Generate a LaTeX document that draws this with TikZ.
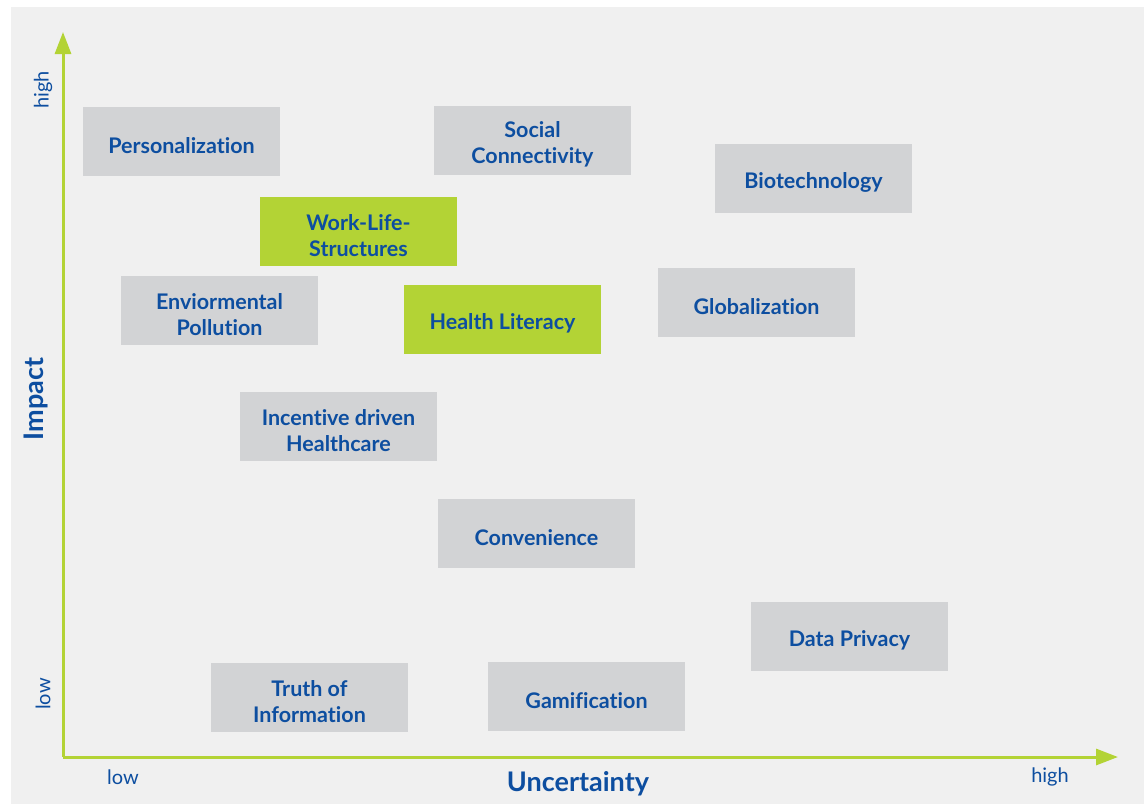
\documentclass[tikz,border=0pt]{standalone}
\usepackage{fontspec}
\setmainfont{Lato}[Ligatures={NoCommon}]
\usetikzlibrary{arrows.meta}
\definecolor{bgc}{HTML}{F0F0F0}
\definecolor{boxg}{HTML}{D2D3D5}
\definecolor{lime}{HTML}{B3D335}
\definecolor{txtb}{HTML}{0D4EA0}
\tikzset{
  lbl/.style={text=txtb, align=center, inner sep=0pt, yshift=-4pt,
    font=\fontsize{21.5}{26}\selectfont\bfseries},
  item/.style={fill=boxg, draw=none, minimum width=197pt, minimum height=69pt, inner sep=0pt},
  hot/.style={item, fill=lime},
  axis/.style={draw=lime, line width=3pt, -{Triangle[length=22pt,width=16pt]}},
  tick/.style={text=txtb, font=\fontsize{20}{24}\selectfont, inner sep=0pt},
  axtitle/.style={text=txtb, font=\fontsize{27}{30}\selectfont\bfseries, inner sep=0pt}
}
\begin{document}
\begin{tikzpicture}[x=1pt,y=-1pt]
\useasboundingbox (0,0) rectangle (1144,804);
\fill[white] (0,0) rectangle (1144,804);
\fill[bgc] (11,7) rectangle (1144,804);
\coordinate (O) at (63,757);
\coordinate (Ytip) at (63,32);
\coordinate (Xtip) at (1118,757);
\draw[axis] (O) -- (Ytip);
\draw[axis] (O) -- (Xtip);
\node[item, label={[lbl]center:Personalization}] (pers) at (181.5,141.5) {};
\node[item, label={[lbl]center:Social\\Connectivity}] (soc) at (532.5,140.5) {};
\node[item, label={[lbl]center:Biotechnology}] (bio) at (813.5,178.5) {};
\node[hot, label={[lbl]center:Work-Life-\\Structures}] (wls) at (358.5,231.5) {};
\node[item, label={[lbl]center:Enviormental\\Pollution}] (env) at (219.5,310.5) {};
\node[hot, label={[lbl]center:Health Literacy}] (hl) at (502.5,319.5) {};
\node[item, label={[lbl]center:Globalization}] (glob) at (756.5,302.5) {};
\node[item, label={[lbl]center:Incentive driven\\Healthcare}] (inc) at (338.5,426.5) {};
\node[item, label={[lbl]center:Convenience}] (conv) at (536.5,533.5) {};
\node[item, label={[lbl]center:Data Privacy}] (dp) at (849.5,636.5) {};
\node[item, label={[lbl]center:Truth of\\Information}] (truth) at (309.5,697.5) {};
\node[item, label={[lbl]center:Gamification}] (gam) at (586.5,696.5) {};
\node[tick, rotate=90] (yhigh) at (43,90) {high};
\node[tick, rotate=90] (ylow) at (43,694) {low};
\node[axtitle, rotate=90] (ylab) at (36,399) {Impact};
\node[tick] (xlow) at (123,777) {low};
\node[tick] (xhigh) at (1050,777) {high};
\node[axtitle] (xlab) at (578,784) {Uncertainty};
\end{tikzpicture}
\end{document}
